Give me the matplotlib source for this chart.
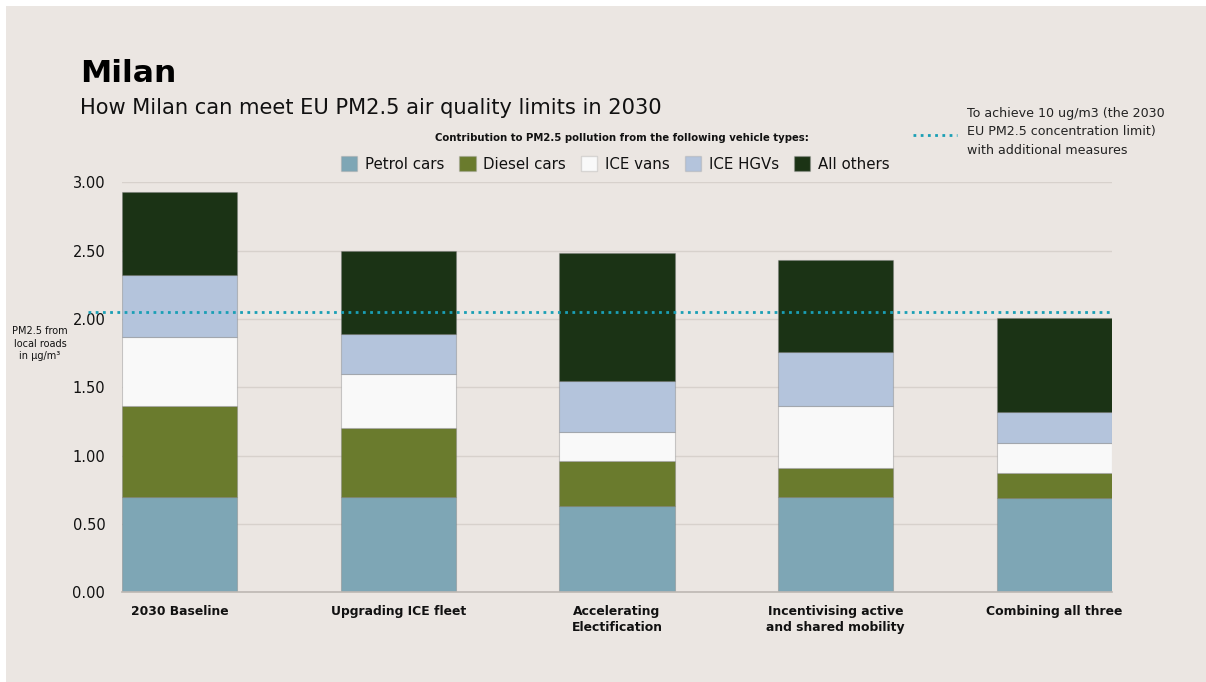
import matplotlib.pyplot as plt
from matplotlib.patches import Patch, Rectangle
from matplotlib.lines import Line2D
import numpy as np

# scenario labels and stacked contributions (ug/m3)
scenarios = ['2030 Baseline', 'Upgrading ICE fleet', 'Accelerating\nElectification',
             'Incentivising active\nand shared mobility', 'Combining all three']
petrol = [0.70, 0.70, 0.63, 0.70, 0.69]
diesel = [0.66, 0.50, 0.33, 0.21, 0.18]
vans = [0.51, 0.40, 0.21, 0.45, 0.22]
hgvs = [0.45, 0.29, 0.38, 0.40, 0.23]
others = [0.61, 0.61, 0.93, 0.67, 0.69]
limit = 2.05

series = ['Petrol cars', 'Diesel cars', 'ICE vans', 'ICE HGVs', 'All others']
colors = ['#7ea6b5', '#6a7b2d', '#f9f9f9', '#b4c4dc', '#1b3315']
yticks = [0, 0.5, 1.0, 1.5, 2.0, 2.5, 3.0]

bg = '#ebe6e2'
txt = '#111111'

fig = plt.figure(figsize=(12.06, 6.82), dpi=100, facecolor='white')
fig.patches.append(Rectangle((6 / 1206, 0), 1, 1 - 6 / 682, transform=fig.transFigure,
                             facecolor=bg, edgecolor='none', zorder=-10))

ax = fig.add_axes([122 / 1206, 1 - 592.3 / 682, 990 / 1206, 409.9 / 682])
ax.set_facecolor('none')

x = np.arange(len(scenarios))
width = 0.528
bottom = np.zeros(len(scenarios))
for vals, col, name in zip([petrol, diesel, vans, hgvs, others], colors, series):
    ax.bar(x, vals, width, bottom=bottom, color=col, label=name,
           edgecolor=(0.45, 0.45, 0.45, 0.35), linewidth=0.8, zorder=3)
    bottom += np.array(vals)

ax.set_xlim(-width / 2, len(scenarios) - 1 + width / 2)
ax.set_ylim(0, 3.0)
ax.set_yticks(yticks)
ax.set_yticklabels(['%.2f' % v for v in yticks], fontsize=10.5, color=txt)
ax.set_xticks(x)
ax.set_xticklabels(scenarios, fontsize=8.9, fontweight='bold', color=txt, linespacing=1.3,
                   family=['Liberation Sans Narrow', 'DejaVu Sans'])
ax.tick_params(axis='both', length=0)
ax.tick_params(axis='y', pad=12)
ax.tick_params(axis='x', pad=9.5)
ax.grid(axis='y', color='#d7d1cc', linewidth=1, zorder=0)
for s in ['top', 'right', 'left']:
    ax.spines[s].set_visible(False)
ax.spines['bottom'].set_color('#bdb8b3')
ax.spines['bottom'].set_linewidth(1.2)
ax.spines['bottom'].set_zorder(4)

# EU limit line, starts out left over the tick labels
ax.plot([-0.42, len(scenarios) - 1 + width / 2], [limit, limit], color='#1a9fb5',
        linewidth=2, linestyle=(0, (1, 1.6)), dash_capstyle='butt', clip_on=False, zorder=5)

ax.text(-0.639, 1.82, 'PM2.5 from\nlocal roads\nin µg/m³', fontsize=7,
        ha='center', va='center', color=txt, linespacing=1.3)

fig.text(80 / 1206, 1 - 74 / 682, 'Milan', fontsize=22.6, fontweight='bold', color='black',
         va='center', ha='left')
fig.text(80 / 1206, 1 - 108 / 682, 'How Milan can meet EU PM2.5 air quality limits in 2030',
         fontsize=15.1, color=txt, va='center', ha='left')

fig.text(622 / 1206, 1 - 138 / 682,
         'Contribution to PM2.5 pollution from the following vehicle types:',
         fontsize=7.3, fontweight='bold', color=txt, ha='center', va='center')
handles = [Patch(facecolor=c, edgecolor=(0.6, 0.6, 0.6, 0.3), label=n) for c, n in zip(colors, series)]
fig.legend(handles=handles, loc='center', bbox_to_anchor=(615 / 1206, 1 - 164 / 682), ncol=5,
           frameon=False, fontsize=10.8, handlelength=1.1, handleheight=1.1,
           handletextpad=0.5, columnspacing=1.0, labelcolor=txt)

fig.add_artist(Line2D([913 / 1206, 957 / 1206], [1 - 135 / 682, 1 - 135 / 682],
                      transform=fig.transFigure, color='#1a9fb5', linewidth=2,
                      linestyle=(0, (1, 1.6))))
fig.text(967 / 1206, 1 - 132 / 682,
         'To achieve 10 ug/m3 (the 2030\nEU PM2.5 concentration limit)\nwith additional measures',
         fontsize=9.1, color='#222222', ha='left', va='center', linespacing=1.5)

fig.savefig('out.png', dpi=100, facecolor=fig.get_facecolor())
